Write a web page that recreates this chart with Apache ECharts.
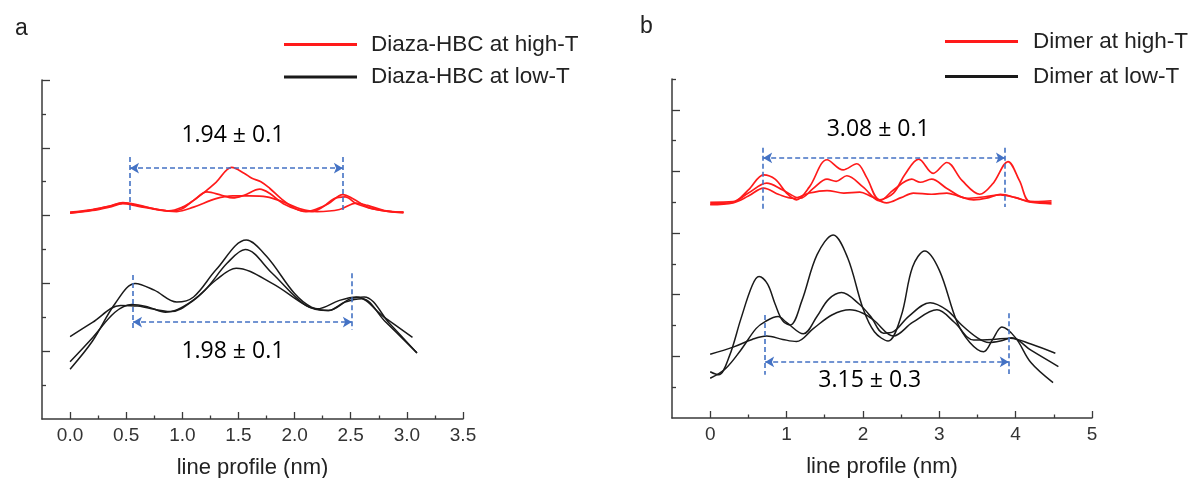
<!DOCTYPE html>
<html>
<head>
<meta charset="utf-8">
<script src="https://cdn.jsdelivr.net/npm/echarts@6/dist/echarts.min.js"></script>
<style>html,body{margin:0;padding:0;background:#fff;}#c{width:1189px;height:478px;}</style>
</head>
<body>
<div id="c"></div>
<script>
// ---------- Panel a: Diaza-HBC ----------
const aHighNames = 'Diaza-HBC at high-T';
const aLowNames = 'Diaza-HBC at low-T';
const aHigh1 = [[0,6.08],[0.2,6.17],[0.35,6.27],[0.47,6.37],[0.6,6.3],[0.75,6.2],[0.88,6.14],[1.0,6.25],[1.1,6.45],[1.2,6.7],[1.3,6.98],[1.44,7.42],[1.55,7.25],[1.62,7.1],[1.7,7.0],[1.78,6.8],[1.88,6.5],[2.0,6.22],[2.1,6.12],[2.2,6.2],[2.3,6.35],[2.43,6.62],[2.52,6.5],[2.65,6.25],[2.8,6.14],[2.97,6.08]];
const aHigh2 = [[0,6.1],[0.2,6.18],[0.35,6.28],[0.47,6.38],[0.6,6.32],[0.75,6.2],[0.9,6.13],[1.0,6.2],[1.1,6.45],[1.22,6.7],[1.35,6.6],[1.45,6.52],[1.55,6.6],[1.69,6.78],[1.78,6.65],[1.9,6.35],[2.05,6.15],[2.15,6.12],[2.25,6.25],[2.35,6.5],[2.45,6.55],[2.55,6.35],[2.7,6.2],[2.85,6.12],[2.97,6.1]];
const aHigh3 = [[0,6.07],[0.2,6.15],[0.35,6.25],[0.47,6.35],[0.6,6.28],[0.8,6.16],[0.95,6.12],[1.1,6.25],[1.3,6.5],[1.45,6.58],[1.6,6.58],[1.75,6.55],[1.9,6.4],[2.05,6.2],[2.2,6.12],[2.4,6.18],[2.55,6.37],[2.65,6.3],[2.8,6.15],[2.97,6.1]];
const aLow1 = [[0,1.47],[0.2,2.3],[0.4,3.4],[0.58,4.0],[0.75,3.8],[0.95,3.45],[1.1,3.6],[1.3,4.4],[1.57,5.28],[1.75,4.8],[2.0,3.7],[2.15,3.3],[2.3,3.2],[2.45,3.45],[2.6,3.55],[2.8,2.9],[3.09,1.95]];
const aLow2 = [[0,1.69],[0.2,2.4],[0.4,3.15],[0.55,3.38],[0.7,3.3],[0.85,3.15],[1.0,3.3],[1.2,3.8],[1.4,4.6],[1.56,5.0],[1.8,4.3],[2.1,3.35],[2.3,3.2],[2.5,3.55],[2.62,3.6],[2.85,2.8],[3.09,1.95]];
const aLow3 = [[0,2.43],[0.2,2.85],[0.45,3.35],[0.6,3.33],[0.9,3.17],[1.1,3.5],[1.3,4.1],[1.48,4.45],[1.8,4.0],[2.1,3.35],[2.2,3.25],[2.4,3.5],[2.55,3.6],[2.8,3.0],[3.05,2.41]];
const aXMajor = [0,0.5,1,1.5,2,2.5,3,3.5];
const aXMinor = [0.25,0.75,1.25,1.75,2.25,2.75,3.25];
const aYMajor = [2,4,6,8,10];
const aYMinor = [1,3,5,7,9];
const aArrowTop = [[0.534,7.40],[2.43,7.40]];
const aTicksTop = [[[0.534,7.73],[0.534,6.11]],[[2.43,7.73],[2.43,6.15]]];
const aArrowBot = [[0.561,2.86],[2.51,2.86]];
const aTicksBot = [[[0.561,4.25],[0.561,2.63]],[[2.51,4.30],[2.51,2.63]]];
const aLabels = [{name:'1.94 ± 0.1', value:[1.45,8.35]},{name:'1.98 ± 0.1', value:[1.45,1.98]}];

// ---------- Panel b: Dimer ----------
const bHighNames = 'Dimer at high-T';
const bLowNames = 'Dimer at low-T';
const bHigh1 = [[0,7.0],[0.3,7.02],[0.5,7.4],[0.7,7.89],[0.85,7.75],[1.0,7.3],[1.13,7.08],[1.3,7.5],[1.53,8.38],[1.74,8.05],[1.92,8.25],[2.05,7.8],[2.22,7.08],[2.4,7.3],[2.55,7.9],[2.73,8.4],[2.92,7.94],[3.1,8.29],[3.3,7.7],[3.53,7.26],[3.7,7.6],[3.9,8.32],[4.05,7.7],[4.19,7.02],[4.47,7.05]];
const bHigh2 = [[0,6.95],[0.3,7.0],[0.5,7.3],[0.74,7.62],[0.95,7.4],[1.18,7.13],[1.35,7.45],[1.53,7.75],[1.65,7.68],[1.79,7.86],[2.0,7.5],[2.22,7.05],[2.4,7.4],[2.64,7.75],[2.75,7.65],[2.9,7.75],[3.1,7.45],[3.36,7.13],[3.6,7.18],[3.8,7.24],[4.0,7.15],[4.2,7.02],[4.47,7.0]];
const bHigh3 = [[0,6.92],[0.3,6.98],[0.5,7.2],[0.7,7.46],[0.9,7.25],[1.09,7.13],[1.3,7.3],[1.53,7.38],[1.75,7.3],[1.96,7.33],[2.1,7.2],[2.31,6.98],[2.5,7.15],[2.66,7.3],[2.9,7.26],[3.1,7.3],[3.25,7.2],[3.45,7.08],[3.65,7.15],[3.8,7.26],[4.0,7.15],[4.2,7.0],[4.47,6.95]];
const bLow1 = [[0,1.50],[0.11,1.40],[0.25,2.0],[0.4,3.2],[0.55,4.3],[0.64,4.59],[0.75,4.35],[0.85,3.7],[0.95,3.15],[1.05,3.02],[1.2,3.8],[1.4,5.3],[1.61,5.94],[1.8,5.2],[2.0,3.56],[2.15,2.8],[2.33,2.5],[2.5,3.3],[2.65,4.9],[2.81,5.42],[3.0,4.8],[3.23,3.13],[3.4,2.45],[3.58,2.15],[3.7,2.55],[3.82,2.95],[4.0,2.6],[4.2,1.8],[4.49,1.15]];
const bLow2 = [[0,1.29],[0.2,1.6],[0.4,2.2],[0.6,2.9],[0.72,3.13],[0.89,3.29],[1.0,3.1],[1.22,2.73],[1.4,3.3],[1.55,3.85],[1.72,4.07],[1.95,3.7],[2.1,3.3],[2.27,2.75],[2.4,2.8],[2.6,3.3],[2.88,3.74],[3.1,3.5],[3.3,3.0],[3.5,2.6],[3.65,2.45],[3.8,2.5],[3.95,2.6],[4.2,2.2],[4.56,1.67]];
const bLow3 = [[0,2.07],[0.3,2.3],[0.55,2.55],[0.74,2.66],[0.95,2.55],[1.13,2.48],[1.35,2.9],[1.6,3.35],[1.83,3.51],[2.0,3.4],[2.14,3.18],[2.4,2.66],[2.65,3.1],[2.97,3.51],[3.2,3.1],[3.45,2.53],[3.7,2.55],[3.93,2.59],[4.2,2.4],[4.52,2.10]];
const bXMajor = [0,1,2,3,4,5];
const bXMinor = [0.5,1.5,2.5,3.5,4.5];
const bYMajor = [2,4,6,8,10];
const bYMinor = [1,3,5,7,9,11];
const bArrowTop = [[0.694,8.44],[3.86,8.44]];
const bTicksTop = [[[0.694,8.77],[0.694,6.75]],[[3.86,8.77],[3.86,6.85]]];
const bArrowBot = [[0.72,1.82],[3.91,1.82]];
const bTicksBot = [[[0.72,3.34],[0.72,1.40]],[[3.91,3.40],[3.91,1.43]]];
const bLabels = [{name:'3.08 ± 0.1', value:[2.20,9.35]},{name:'3.15 ± 0.3', value:[2.09,1.23]}];

const RED = '#ff1a1a', BLACK = '#1a1a1a', BLUE = '#4472c4', AX = '#3a3a3a';
const FONT = 'Liberation Sans, Arial, sans-serif';

function majorX(gi, min, max, ticks, dec) {
  return {
    type:'value', gridIndex:gi, min:min, max:max,
    axisLine:{show:true, onZero:false, lineStyle:{color:AX, width:1.5}},
    axisTick:{show:true, inside:true, length:7, customValues:ticks, lineStyle:{color:AX, width:1.3}},
    axisLabel:{show:true, customValues:ticks, color:'#333', fontSize:19, fontFamily:FONT, margin:7,
      formatter:v => dec ? v.toFixed(1) : String(v)},
    splitLine:{show:false},
    name:'line profile (nm)', nameLocation:'middle', nameGap:38,
    nameTextStyle:{color:'#222', fontSize:22, fontFamily:FONT}
  };
}
function minorX(gi, min, max, ticks) {
  return {
    type:'value', gridIndex:gi, min:min, max:max, position:'bottom',
    axisLine:{show:false, onZero:false},
    axisTick:{show:true, inside:true, length:3.5, customValues:ticks, lineStyle:{color:AX, width:1.3}},
    axisLabel:{show:false}, splitLine:{show:false}
  };
}
function majorY(gi, max, ticks) {
  return {
    type:'value', gridIndex:gi, min:0, max:max,
    axisLine:{show:true, onZero:false, lineStyle:{color:AX, width:1.5}},
    axisTick:{show:true, inside:true, length:8, customValues:ticks, lineStyle:{color:AX, width:1.3}},
    axisLabel:{show:false}, splitLine:{show:false}
  };
}
function minorY(gi, max, ticks) {
  return {
    type:'value', gridIndex:gi, min:0, max:max, position:'left',
    axisLine:{show:false, onZero:false},
    axisTick:{show:true, inside:true, length:4, customValues:ticks, lineStyle:{color:AX, width:1.3}},
    axisLabel:{show:false}, splitLine:{show:false}
  };
}
function curve(name, data, color, xi, yi, w) {
  return {type:'line', name:name, data:data, xAxisIndex:xi, yAxisIndex:yi, smooth:0.35,
    showSymbol:false, symbol:'none', lineStyle:{color:color, width:w}, itemStyle:{color:color},
    silent:true, animation:false, z:3};
}
function seg(a, b, arrow) {
  const s = arrow ? 'arrow' : 'none';
  return [{coord:a, symbol:s, symbolSize:arrow?[8,9]:0}, {coord:b, symbol:s, symbolSize:arrow?[8,9]:0}];
}
function annot(xi, yi, arrow1, ticks1, arrow2, ticks2, labels) {
  const lines = [seg(arrow1[0], arrow1[1], true), seg(arrow2[0], arrow2[1], true)]
    .concat(ticks1.map(t => seg(t[0], t[1], false)))
    .concat(ticks2.map(t => seg(t[0], t[1], false)));
  return {
    type:'scatter', xAxisIndex:xi, yAxisIndex:yi, data:labels, symbolSize:0, silent:true, animation:false, z:5,
    itemStyle:{opacity:1},
    label:{show:true, position:'inside', formatter:'{b}', color:'#000', opacity:1, fontSize:23, fontFamily:'Open Sans, Lato, sans-serif'},
    markLine:{silent:true, animation:false, symbol:['none','none'],
      lineStyle:{color:BLUE, width:1.6, type:[5,3], opacity:1}, label:{show:false}, emphasis:{disabled:true},
      data:lines}
  };
}

const chart = echarts.init(document.getElementById('c'), null, {renderer:'canvas'});
chart.setOption({
  animation:false,
  backgroundColor:'#fff',
  title:[
    {text:'a', left:10, top:12, textStyle:{fontSize:23, fontWeight:'normal', color:'#222', fontFamily:FONT}},
    {text:'b', left:635, top:10, textStyle:{fontSize:23, fontWeight:'normal', color:'#222', fontFamily:FONT}}
  ],
  legend:[
    {data:[aHighNames, aLowNames], orient:'vertical', left:279, top:28, itemWidth:73, itemHeight:3, icon:'rect',
      itemGap:9.5, selectedMode:false, textStyle:{fontSize:22.5, fontFamily:FONT, color:'#222', lineHeight:22, padding:[0,0,0,9]}},
    {data:[bHighNames, bLowNames], orient:'vertical', left:940, top:25, itemWidth:73, itemHeight:3, icon:'rect',
      itemGap:12, selectedMode:false, textStyle:{fontSize:22.5, fontFamily:FONT, color:'#222', lineHeight:22, padding:[0,0,0,10]}}
  ],
  grid:[
    {left:42, top:80, width:421, height:339, outerBoundsMode:'none', containLabel:false},
    {left:672, top:79, width:420, height:339, outerBoundsMode:'none', containLabel:false}
  ],
  xAxis:[
    majorX(0, -0.25, 3.5, aXMajor, true), minorX(0, -0.25, 3.5, aXMinor),
    majorX(1, -0.5, 5, bXMajor, false), minorX(1, -0.5, 5, bXMinor)
  ],
  yAxis:[
    majorY(0, 10, aYMajor), minorY(0, 10, aYMinor),
    majorY(1, 11, bYMajor), minorY(1, 11, bYMinor)
  ],
  series:[
    curve(aHighNames, aHigh1, RED, 0, 0, 1.7),
    curve(aHighNames, aHigh2, RED, 0, 0, 1.7),
    curve(aHighNames, aHigh3, RED, 0, 0, 1.7),
    curve(aLowNames, aLow1, BLACK, 0, 0, 1.5),
    curve(aLowNames, aLow2, BLACK, 0, 0, 1.5),
    curve(aLowNames, aLow3, BLACK, 0, 0, 1.5),
    annot(0, 0, aArrowTop, aTicksTop, aArrowBot, aTicksBot, aLabels),
    curve(bHighNames, bHigh1, RED, 2, 2, 1.7),
    curve(bHighNames, bHigh2, RED, 2, 2, 1.7),
    curve(bHighNames, bHigh3, RED, 2, 2, 1.7),
    curve(bLowNames, bLow1, BLACK, 2, 2, 1.5),
    curve(bLowNames, bLow2, BLACK, 2, 2, 1.5),
    curve(bLowNames, bLow3, BLACK, 2, 2, 1.5),
    annot(2, 2, bArrowTop, bTicksTop, bArrowBot, bTicksBot, bLabels)
  ]
});
</script>
</body>
</html>
